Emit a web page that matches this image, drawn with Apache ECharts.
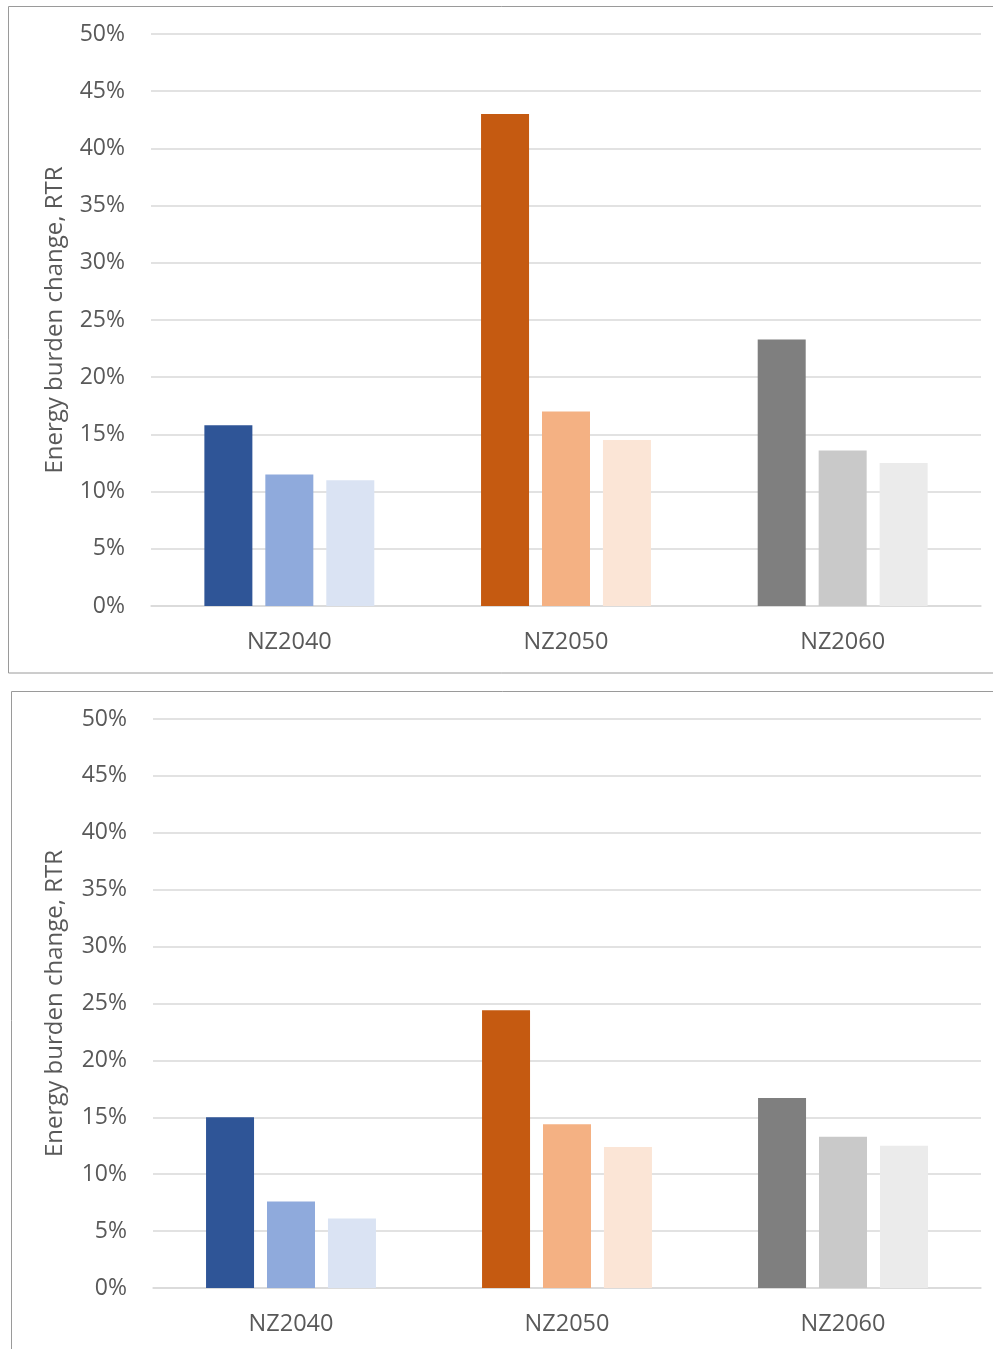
<!DOCTYPE html>
<html><head><meta charset="utf-8">
<script src="https://cdn.jsdelivr.net/npm/echarts@6/dist/echarts.min.js"></script>
<style>html,body{margin:0;padding:0;background:#fff}#c{width:993px;height:1349px}</style>
</head><body><div id="c"></div>
<script>
const categories = ['NZ2040', 'NZ2050', 'NZ2060'];
const yTicks = [0, 5, 10, 15, 20, 25, 30, 35, 40, 45, 50];
const axisName = 'Energy burden change, RTR';
// top panel values (%)
const topSeries1 = [15.8, 43.0, 23.3];
const topSeries2 = [11.5, 17.0, 13.6];
const topSeries3 = [11.0, 14.5, 12.5];
// bottom panel values (%)
const botSeries1 = [15.0, 24.4, 16.7];
const botSeries2 = [7.6, 14.4, 13.3];
const botSeries3 = [6.1, 12.4, 12.5];
const palette = [
  ['#2F5597', '#C55A11', '#7F7F7F'],
  ['#8FAADC', '#F4B183', '#C9C9C9'],
  ['#DAE3F3', '#FBE5D6', '#EBEBEB']
];

const chart = echarts.init(document.getElementById('c'));
const font = 'Open Sans';
const grids = [
  {left: 151, right: 12, top: 34, bottom: 743},
  {left: 153, right: 12, top: 719, bottom: 61}
];
function xAxis(i){return {type:'category', gridIndex:i, data:categories,
  axisLine:{lineStyle:{color:'#D9D9D9', width:1.5}}, axisTick:{show:false},
  axisLabel:{color:'#595959', fontSize:23.5, fontFamily:font, margin:24}};}
function yAxis(i){return {type:'value', gridIndex:i, min:0, max:50, interval:5,
  name:axisName, nameLocation:'middle', nameGap:i===0?84:86, nameRotate:90,
  nameTextStyle:{color:'#595959', fontSize:24, fontFamily:font},
  axisLine:{show:false}, axisTick:{show:false},
  axisLabel:{color:'#595959', fontSize:23, fontFamily:font, margin:26, formatter: v => yTicks.includes(v) ? v + '%' : ''},
  splitLine:{lineStyle:{color:'#D9D9D9', width:1.5}}};}
function bars(vals, k, i){return {type:'bar', xAxisIndex:i, yAxisIndex:i, barWidth:48, barGap:'27%',
  data: vals.map((v,j)=>({value:v, itemStyle:{color:palette[k][j]}}))};}
chart.setOption({
  animation:false,
  grid: grids,
  xAxis:[xAxis(0), xAxis(1)],
  yAxis:[yAxis(0), yAxis(1)],
  series:[
    bars(topSeries1,0,0), bars(topSeries2,1,0), bars(topSeries3,2,0),
    bars(botSeries1,0,1), bars(botSeries2,1,1), bars(botSeries3,2,1)
  ],
  graphic:[
    {type:'rect', shape:{x:8.5, y:6.5, width:990, height:666.5}, style:{fill:null, stroke:'#9A9A9A', lineWidth:1}, silent:true, z:-1},
    {type:'rect', shape:{x:11.5, y:691.5, width:990, height:700}, style:{fill:null, stroke:'#9A9A9A', lineWidth:1}, silent:true, z:-1}
  ]
});
</script></body></html>
